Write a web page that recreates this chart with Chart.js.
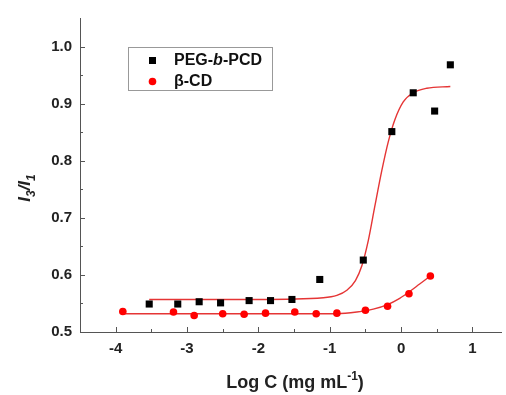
<!DOCTYPE html>
<html>
<head>
<meta charset="utf-8">
<script src="https://cdn.jsdelivr.net/npm/chart.js@4.4.1/dist/chart.umd.min.js"></script>
<style>
  html, body { margin: 0; padding: 0; background: #fff; }
  #wrap { width: 506px; height: 395px; }
</style>
</head>
<body>
<div id="wrap"><canvas id="fluo"></canvas></div>
<script>
const pegLogC = [-3.53, -3.13, -2.83, -2.53, -2.13, -1.83, -1.53, -1.14, -0.53, -0.13, 0.17, 0.47, 0.69];
const pegRatio = [0.549, 0.549, 0.553, 0.551, 0.555, 0.555, 0.557, 0.592, 0.626, 0.851, 0.919, 0.887, 0.968];
const cdLogC = [-3.90, -3.19, -2.90, -2.50, -2.20, -1.90, -1.49, -1.19, -0.90, -0.50, -0.19, 0.11, 0.41];
const cdRatio = [0.536, 0.535, 0.529, 0.532, 0.531, 0.533, 0.535, 0.532, 0.533, 0.538, 0.545, 0.567, 0.598];

// fitted curves
const pegFitX = [-3.53, -2.02, -1.09, -0.90, -0.76, -0.64, -0.55, -0.46, -0.37, -0.27, -0.18, -0.09, 0.03, 0.17, 0.36, 0.69];
const pegFitY = [0.557, 0.557, 0.560, 0.564, 0.573, 0.590, 0.616, 0.660, 0.719, 0.783, 0.833, 0.871, 0.903, 0.919, 0.927, 0.930];
const cdFitX = [-3.90, -0.90, -0.62, -0.39, -0.19, -0.02, 0.11, 0.26, 0.41];
const cdFitY = [0.532, 0.532, 0.535, 0.540, 0.548, 0.559, 0.570, 0.584, 0.598];

const xTicks = [-4, -3, -2, -1, 0, 1];
const xMinor = [-3.5, -2.5, -1.5, -0.5, 0.5];
const yTicks = [0.5, 0.6, 0.7, 0.8, 0.9, 1.0];
const yMinor = [0.55, 0.65, 0.75, 0.85, 0.95];

const legendNames = ['PEG-b-PCD', 'β-CD'];

const pts = (xs, ys) => xs.map((v, i) => ({ x: v, y: ys[i] }));

// inward ticks, axis titles and the framed legend
const decor = {
  id: 'decor',
  afterDraw(chart) {
    const { ctx, chartArea: a, scales: { x, y } } = chart;
    ctx.save();
    ctx.strokeStyle = '#555';
    ctx.lineWidth = 1;
    ctx.beginPath();
    xTicks.forEach(v => { const p = Math.round(x.getPixelForValue(v)) + 0.5; ctx.moveTo(p, a.bottom); ctx.lineTo(p, a.bottom - 5); });
    xMinor.forEach(v => { const p = Math.round(x.getPixelForValue(v)) + 0.5; ctx.moveTo(p, a.bottom); ctx.lineTo(p, a.bottom - 3); });
    yTicks.forEach(v => { const p = Math.round(y.getPixelForValue(v)) + 0.5; ctx.moveTo(a.left, p); ctx.lineTo(a.left + 5, p); });
    yMinor.forEach(v => { const p = Math.round(y.getPixelForValue(v)) + 0.5; ctx.moveTo(a.left, p); ctx.lineTo(a.left + 3, p); });
    ctx.stroke();

    ctx.fillStyle = '#222';
    ctx.textBaseline = 'alphabetic';

    // x title with superscript
    const big = 'bold 18px "Liberation Sans", Arial, sans-serif';
    const sup = 'bold 12px "Liberation Sans", Arial, sans-serif';
    ctx.font = big;
    const t1 = 'Log C (mg mL', t3 = ')';
    const w1 = ctx.measureText(t1).width, w3 = ctx.measureText(t3).width;
    ctx.font = sup;
    const w2 = ctx.measureText('-1').width;
    let cx = 295 - (w1 + w2 + w3) / 2;
    const by = 388;
    ctx.font = big; ctx.fillText(t1, cx, by); cx += w1;
    ctx.font = sup; ctx.fillText('-1', cx, by - 8); cx += w2;
    ctx.font = big; ctx.fillText(t3, cx, by);

    // y title I3/I1, rotated
    ctx.save();
    ctx.translate(30, 188);
    ctx.rotate(-Math.PI / 2);
    const it = 'italic bold 17px "Liberation Sans", Arial, sans-serif';
    const its = 'italic bold 12px "Liberation Sans", Arial, sans-serif';
    const parts = [['I', it, 0], ['3', its, 5], ['/', it, 0], ['I', it, 0], ['1', its, 5]];
    let tw = 0;
    parts.forEach(p => { ctx.font = p[1]; tw += ctx.measureText(p[0]).width; });
    let px = -tw / 2;
    parts.forEach(p => { ctx.font = p[1]; ctx.fillText(p[0], px, p[2]); px += ctx.measureText(p[0]).width; });
    ctx.restore();

    // legend box
    ctx.strokeStyle = '#999';
    ctx.strokeRect(128.5, 47.5, 144, 43);
    ctx.fillStyle = '#000';
    ctx.fillRect(149, 57, 7, 7);
    ctx.fillStyle = '#ff0000';
    ctx.beginPath(); ctx.arc(152.5, 81.5, 3.8, 0, Math.PI * 2); ctx.fill();
    ctx.fillStyle = '#111';
    ctx.textBaseline = 'middle';
    const lf = 'bold 16px "Liberation Sans", Arial, sans-serif';
    const lfi = 'italic bold 16px "Liberation Sans", Arial, sans-serif';
    let lx = 174;
    const segs = [['PEG-', lf], ['b', lfi], ['-PCD', lf]];
    segs.forEach(s => { ctx.font = s[1]; ctx.fillText(s[0], lx, 61); lx += ctx.measureText(s[0]).width; });
    ctx.font = lf;
    ctx.fillText(legendNames[1], 174, 82);
    ctx.restore();
  }
};

function initChart() {
  const ctx = document.getElementById('fluo').getContext('2d');
  new Chart(ctx, {
    type: 'scatter',
    data: {
      datasets: [
        {
          label: legendNames[0],
          data: pts(pegLogC, pegRatio),
          pointStyle: 'rect',
          pointRadius: 5,
          backgroundColor: '#000',
          borderColor: '#000',
          borderWidth: 0,
          order: 1
        },
        {
          label: legendNames[1],
          data: pts(cdLogC, cdRatio),
          pointStyle: 'circle',
          pointRadius: 3.8,
          backgroundColor: '#ff0000',
          borderColor: '#ff0000',
          borderWidth: 0,
          order: 1
        },
        {
          label: 'PEG fit',
          data: pts(pegFitX, pegFitY),
          showLine: true,
          pointRadius: 0,
          borderColor: '#e53535',
          borderWidth: 1.4,
          cubicInterpolationMode: 'monotone',
          order: 2
        },
        {
          label: 'CD fit',
          data: pts(cdFitX, cdFitY),
          showLine: true,
          pointRadius: 0,
          borderColor: '#e53535',
          borderWidth: 1.4,
          cubicInterpolationMode: 'monotone',
          order: 2
        }
      ]
    },
    options: {
      responsive: true,
      maintainAspectRatio: false,
      animation: false,
      layout: { padding: { top: 18, left: 0, right: 0, bottom: 0 } },
      plugins: {
        legend: { display: false },
        tooltip: { enabled: false }
      },
      scales: {
        x: {
          type: 'linear',
          min: -4.5,
          max: 1.4,
          afterBuildTicks: s => { s.ticks = xTicks.map(v => ({ value: v })); },
          afterFit: s => { s.height = 63; },
          grid: { display: false, drawTicks: false },
          border: { display: true, color: '#555', width: 1 },
          ticks: {
            color: '#222',
            padding: 8,
            font: { family: '"Liberation Sans", Arial, sans-serif', size: 15, weight: 'bold' }
          }
        },
        y: {
          type: 'linear',
          min: 0.5,
          max: 1.05,
          afterBuildTicks: s => { s.ticks = yTicks.map(v => ({ value: v })); },
          afterFit: s => { s.width = 80; },
          grid: { display: false, drawTicks: false },
          border: { display: true, color: '#555', width: 1 },
          ticks: {
            color: '#222',
            padding: 8,
            callback: v => v.toFixed(1),
            font: { family: '"Liberation Sans", Arial, sans-serif', size: 15, weight: 'bold' }
          }
        }
      }
    },
    plugins: [decor]
  });
}

document.addEventListener('DOMContentLoaded', initChart);
</script>
</body>
</html>
